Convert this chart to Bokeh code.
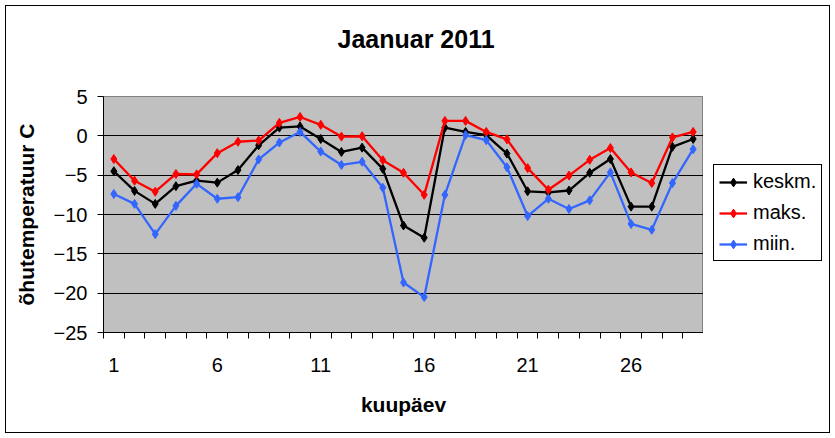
from bokeh.plotting import figure
from bokeh.layouts import row
from bokeh.models import Range1d, FixedTicker, Legend, LegendItem
from bokeh.embed import file_html
from bokeh.resources import INLINE

days = list(range(1, 30))
keskm = [-4.5, -7.0, -8.65, -6.4, -5.7, -5.95, -4.35, -1.2, 1.05, 1.2, -0.4, -2.05, -1.5, -4.2,
         -11.4, -12.95, 1.05, 0.5, 0.1, -2.25, -7.05, -7.2, -6.95, -4.7, -2.95, -9.0, -9.0, -1.4, -0.4]
maks = [-2.95, -5.7, -7.1, -4.85, -4.9, -2.2, -0.75, -0.6, 1.65, 2.4, 1.4, -0.1, -0.05, -3.1,
        -4.7, -7.5, 1.9, 1.9, 0.5, -0.45, -4.1, -6.85, -5.05, -3.05, -1.55, -4.65, -6.0, -0.2, 0.5]
miin = [-7.4, -8.65, -12.5, -8.9, -6.1, -8.0, -7.8, -3.0, -0.85, 0.5, -2.0, -3.7, -3.3, -6.6,
        -18.65, -20.5, -7.5, 0.1, -0.55, -4.0, -10.2, -8.0, -9.3, -8.2, -4.65, -11.2, -11.95, -6.0, -1.7]
x_labels = [1, 6, 11, 16, 21, 26]
y_ticks = [-25, -20, -15, -10, -5, 0, 5]
y_grid = [-20, -15, -10, -5, 0]
series_names = ["keskm.", "maks.", "miin."]
series_colors = ["#000000", "#FF0000", "#3366FF"]

FONT = "Liberation Sans"

x0, x1 = days[0] - 0.5, days[-1] + 0.5

p = figure(frame_width=600, frame_height=236, output_backend="svg", toolbar_location=None,
           x_range=Range1d(x0, x1), y_range=Range1d(y_ticks[0], y_ticks[-1]),
           min_border_left=97, min_border_right=0, min_border_top=90, min_border_bottom=100,
           background_fill_color="#C0C0C0", border_fill_color="white")
p.outline_line_color = "#808080"
p.outline_line_width = 1

p.title.text = "Jaanuar 2011\n"
p.title.text_font = FONT
p.title.text_font_size = "25px"
p.title.text_font_style = "bold"
p.title.text_color = "black"
p.title.align = "left"
p.title.offset = 234
p.title.standoff = 32

# x axis
p.xaxis.ticker = FixedTicker(ticks=x_labels, minor_ticks=[d - 0.5 for d in days] + [x1])
p.xaxis.major_tick_line_color = None
p.xaxis.major_tick_out = 6
p.xaxis.major_tick_in = 0
p.xaxis.minor_tick_out = 6
p.xaxis.minor_tick_in = 0
p.xaxis.minor_tick_line_color = "black"
p.xaxis.major_label_standoff = 19
p.xaxis.axis_label = "kuupäev"
p.xaxis.axis_label_standoff = 18
p.xgrid.visible = False

# y axis
p.yaxis.ticker = FixedTicker(ticks=y_ticks, minor_ticks=[])
p.yaxis.major_tick_out = 6
p.yaxis.major_tick_in = 0
p.yaxis.major_label_standoff = 10
p.yaxis.axis_label = "õhutemperatuur C"
p.yaxis.axis_label_standoff = 13
p.ygrid.ticker = FixedTicker(ticks=y_grid)
p.ygrid.grid_line_color = "black"
p.ygrid.grid_line_width = 1

for ax in (p.xaxis, p.yaxis):
    ax.axis_line_color = "black"
    ax.axis_line_width = 1
    ax.major_label_text_font = FONT
    ax.major_label_text_font_size = "20px"
    ax.major_label_text_color = "black"
    ax.axis_label_text_font = FONT
    ax.axis_label_text_font_size = "21px"
    ax.axis_label_text_font_style = "bold"
    ax.axis_label_text_color = "black"

for vals, col in zip([keskm, maks, miin], series_colors):
    p.line(days, vals, line_color=col, line_width=2.3)
    p.scatter(days, vals, marker="diamond", size=9, fill_color=col, line_color=col)

# legend panel to the right of the chart; its ranges lie outside the data,
# so its renderers only provide the legend glyphs
q = figure(width=126, height=426, output_backend="svg", toolbar_location=None,
           x_axis_location=None, y_axis_location=None, min_border=0,
           x_range=Range1d(x0 - 2, x0 - 1), y_range=Range1d(y_ticks[0], y_ticks[-1]),
           background_fill_color="white", border_fill_color="white")
q.outline_line_color = None
q.grid.visible = False
items = []
for name, vals, col in zip(series_names, [keskm, maks, miin], series_colors):
    ln = q.line(days, vals, line_color=col, line_width=2.3)
    sc = q.scatter(days, vals, marker="diamond", size=9, fill_color=col, line_color=col)
    items.append(LegendItem(label=name, renderers=[ln, sc]))

legend = Legend(items=items, location=(10, 71))
legend.label_text_font = FONT
legend.label_text_font_size = "20px"
legend.label_text_color = "black"
legend.border_line_color = "black"
legend.border_line_alpha = 1
legend.border_line_width = 1
legend.background_fill_color = "white"
legend.background_fill_alpha = 1
legend.padding = 5
legend.spacing = 8
legend.margin = 0
legend.glyph_width = 28
legend.glyph_height = 22
legend.label_height = 22
legend.label_standoff = 6
q.add_layout(legend, "center")

layout = row(p, q, spacing=0)
layout.styles = {"margin-left": "5px", "margin-top": "5px", "border": "1px solid black"}

open("out.html", "w").write(file_html(layout, INLINE))
